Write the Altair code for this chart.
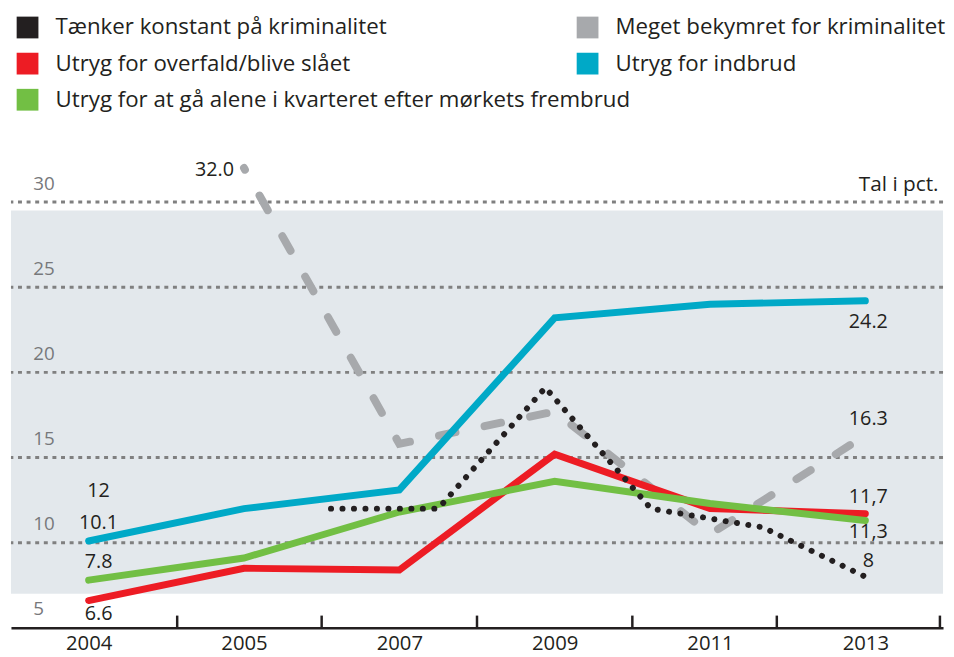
import json
import altair as alt
import pandas as pd

# ---------------- data ----------------
years = ["2004", "2005", "2007", "2009", "2011", "2013"]
year_index = [0, 1, 2, 3, 4, 5]

s_black = "Tænker konstant på kriminalitet"
s_gray = "Meget bekymret for kriminalitet"
s_red = "Utryg for overfald/blive slået"
s_blue = "Utryg for indbrud"
s_green = "Utryg for at gå alene i kvarteret efter mørkets frembrud"

blue_values = [10.1, 12.0, 13.1, 23.2, 24.0, 24.2]
red_values = [6.6, 8.5, 8.4, 15.2, 12.0, 11.7]
green_values = [7.8, 9.1, 11.8, 13.6, 12.3, 11.3]
gray_values = [None, 32.0, 15.8, 17.7, 10.5, 16.3]
# the dotted series is drawn between the year positions in the original
black_x = [1.56, 2.25, 2.94, 3.62, 4.34, 5.0]
black_values = [12.0, 12.0, 19.1, 12.0, 10.9, 8.0]

label_texts = ["12", "10.1", "7.8", "6.6", "32.0", "24.2", "16.3", "11,7", "11,3", "8"]
label_x = [0, 0, 0, 0, 1, 5, 5, 5, 5, 5]
label_y = [12.0, 10.1, 7.8, 6.6, 32.0, 24.2, 16.3, 11.7, 11.3, 8.0]
label_place = ["above_l", "above_l", "above_l", "below_l", "left",
               "below_far", "above_r", "above_r", "below_near", "above_near"]

y_ticks = [5, 10, 15, 20, 25, 30]
grid_values = [10, 15, 20, 25, 30]
x_tick_marks = [0.57, 1.5, 2.5, 3.5, 4.43, 5.48]
panel_range = [7.0, 29.5]

series_order = [s_black, s_red, s_green, s_gray, s_blue]
series_colors = ["#231f20", "#ed1c24", "#72bf44", "#a7a9ac", "#00a9c7"]
legend_col1 = [s_black, s_red, s_green]
legend_col1_colors = ["#231f20", "#ed1c24", "#72bf44"]
legend_col2 = [s_gray, s_blue]
legend_col2_colors = ["#a7a9ac", "#00a9c7"]

FONT = "Open Sans"
TEXT = "#231f20"

# ---------------- tables ----------------
def series_df(name, xs, vals):
    rows = [{"series": name, "xi": x, "value": v} for x, v in zip(xs, vals) if v is not None]
    return pd.DataFrame(rows)

df_blue = series_df(s_blue, year_index, blue_values)
df_red = series_df(s_red, year_index, red_values)
df_green = series_df(s_green, year_index, green_values)
df_gray = series_df(s_gray, year_index, gray_values)
df_black = series_df(s_black, black_x, black_values)
df_all = pd.concat([df_black, df_red, df_green, df_gray, df_blue], ignore_index=True)

df_labels = pd.DataFrame({"text": label_texts, "xi": label_x, "value": label_y, "place": label_place})
df_grid = pd.DataFrame({"value": grid_values})
df_ticks = pd.DataFrame({"xi": x_tick_marks})

W, H = 942, 482

x_scale = alt.Scale(domain=[-0.5, 5.5], nice=False, zero=False)
y_scale = alt.Scale(domain=[5, 33], nice=False, zero=False)

label_expr = "%s[datum.value]" % json.dumps(years)
x_axis = alt.Axis(values=year_index, labelExpr=label_expr, ticks=False, grid=False,
                  domain=True, domainColor=TEXT, domainWidth=2.5, labelFont=FONT,
                  labelFontSize=20.5, labelColor=TEXT, labelPadding=6, title=None,
                  labelFlush=False, labelOverlap=False, zindex=1)
y_axis = alt.Axis(values=y_ticks, grid=False, domain=False, ticks=False, tickSize=0,
                  labelAlign="left", labelPadding=-22, labelOffset=-19,
                  labelBaseline="middle", labelColor="#77787b", labelFont=FONT,
                  labelFontSize=19, labelOverlap=False, labelFlush=False, labelBound=False,
                  title="Tal i pct.", titleAngle=0, titleAlign="right",
                  titleBaseline="middle", titleX=W - 5, titleY=34, titleFont=FONT,
                  titleFontSize=21, titleFontWeight="normal", titleColor=TEXT, zindex=1)

X = alt.X("xi:Q", scale=x_scale, axis=x_axis)
Y = alt.Y("value:Q", scale=y_scale, axis=y_axis)

stroke_enc = alt.Stroke("series:N", scale=alt.Scale(domain=series_order, range=series_colors), legend=None)

panel = alt.Chart(pd.DataFrame({"lo": [panel_range[0]], "hi": [panel_range[1]]})).mark_rect(
    color="#e3e8ec").encode(
    x=alt.X(datum=-0.5, scale=x_scale), x2=alt.X2(datum=5.5),
    y=alt.Y("lo:Q", scale=y_scale, axis=y_axis), y2="hi:Q")

grid = alt.Chart(df_grid).mark_rule(color="#808080", strokeWidth=3, strokeDash=[4, 4.7]).encode(
    y=alt.Y("value:Q", scale=y_scale, axis=y_axis))

ticks = alt.Chart(df_ticks).mark_rule(color=TEXT, strokeWidth=2.5).encode(
    x=alt.X("xi:Q", scale=x_scale, axis=x_axis),
    y=alt.Y(datum=5, scale=y_scale), y2=alt.Y2(datum=5.72))

gray_line = alt.Chart(df_gray).mark_line(strokeWidth=8, strokeCap="round",
                                          strokeDash=[17, 30], strokeDashOffset=15).encode(
    x=X, y=Y, stroke=stroke_enc)
blue_line = alt.Chart(df_blue).mark_line(strokeWidth=7, strokeCap="round").encode(x=X, y=Y, stroke=stroke_enc)
red_line = alt.Chart(df_red).mark_line(strokeWidth=7, strokeCap="round").encode(x=X, y=Y, stroke=stroke_enc)
green_line = alt.Chart(df_green).mark_line(strokeWidth=7, strokeCap="round").encode(x=X, y=Y, stroke=stroke_enc)
black_line = alt.Chart(df_black).mark_line(strokeWidth=6, strokeCap="round",
                                            strokeDash=[0.1, 11.5]).encode(x=X, y=Y, stroke=stroke_enc)

legend_common = dict(orient="none", direction="vertical", symbolType="square", symbolSize=484,
                     symbolStrokeWidth=0, symbolOpacity=1, labelFont=FONT, labelFontSize=22.5,
                     labelColor=TEXT, labelOffset=17, rowPadding=13.5, title=None, padding=0,
                     labelLimit=900, legendY=-136)

helper1 = alt.Chart(df_all[df_all.series.isin(legend_col1)]).mark_square(opacity=0).encode(
    x=X, y=Y,
    fill=alt.Fill("series:N", scale=alt.Scale(domain=legend_col1, range=legend_col1_colors),
                  legend=alt.Legend(legendX=5.5, **legend_common)))
helper2 = alt.Chart(df_all[df_all.series.isin(legend_col2)]).mark_square(opacity=0).encode(
    x=X, y=Y,
    color=alt.Color("series:N", scale=alt.Scale(domain=legend_col2, range=legend_col2_colors),
                    legend=alt.Legend(legendX=571.5, **legend_common)))

place_style = {
    "above_l": dict(align="center", dx=10, dy=-18),
    "below_l": dict(align="center", dx=10, dy=14),
    "above_r": dict(align="center", dx=3, dy=-17),
    "below_far": dict(align="center", dx=3, dy=21),
    "below_near": dict(align="center", dx=3, dy=12),
    "above_near": dict(align="center", dx=3, dy=-16),
    "left": dict(align="right", dx=-10, dy=2),
}
label_layers = []
for place, st in place_style.items():
    label_layers.append(
        alt.Chart(df_labels).transform_filter(alt.datum.place == place).mark_text(
            font=FONT, fontSize=20, color=TEXT, baseline="middle", **st).encode(
            x=X, y=Y, text="text:N"))

chart = alt.layer(
    panel, grid, helper1, helper2, gray_line, blue_line, red_line, green_line, black_line,
    *label_layers, ticks
).properties(
    width=W, height=H, padding={"left": 1, "top": 5, "right": 0, "bottom": 0}
).configure_view(stroke=None)

chart.save("out.html", embed_options={"renderer": "svg", "actions": False})
